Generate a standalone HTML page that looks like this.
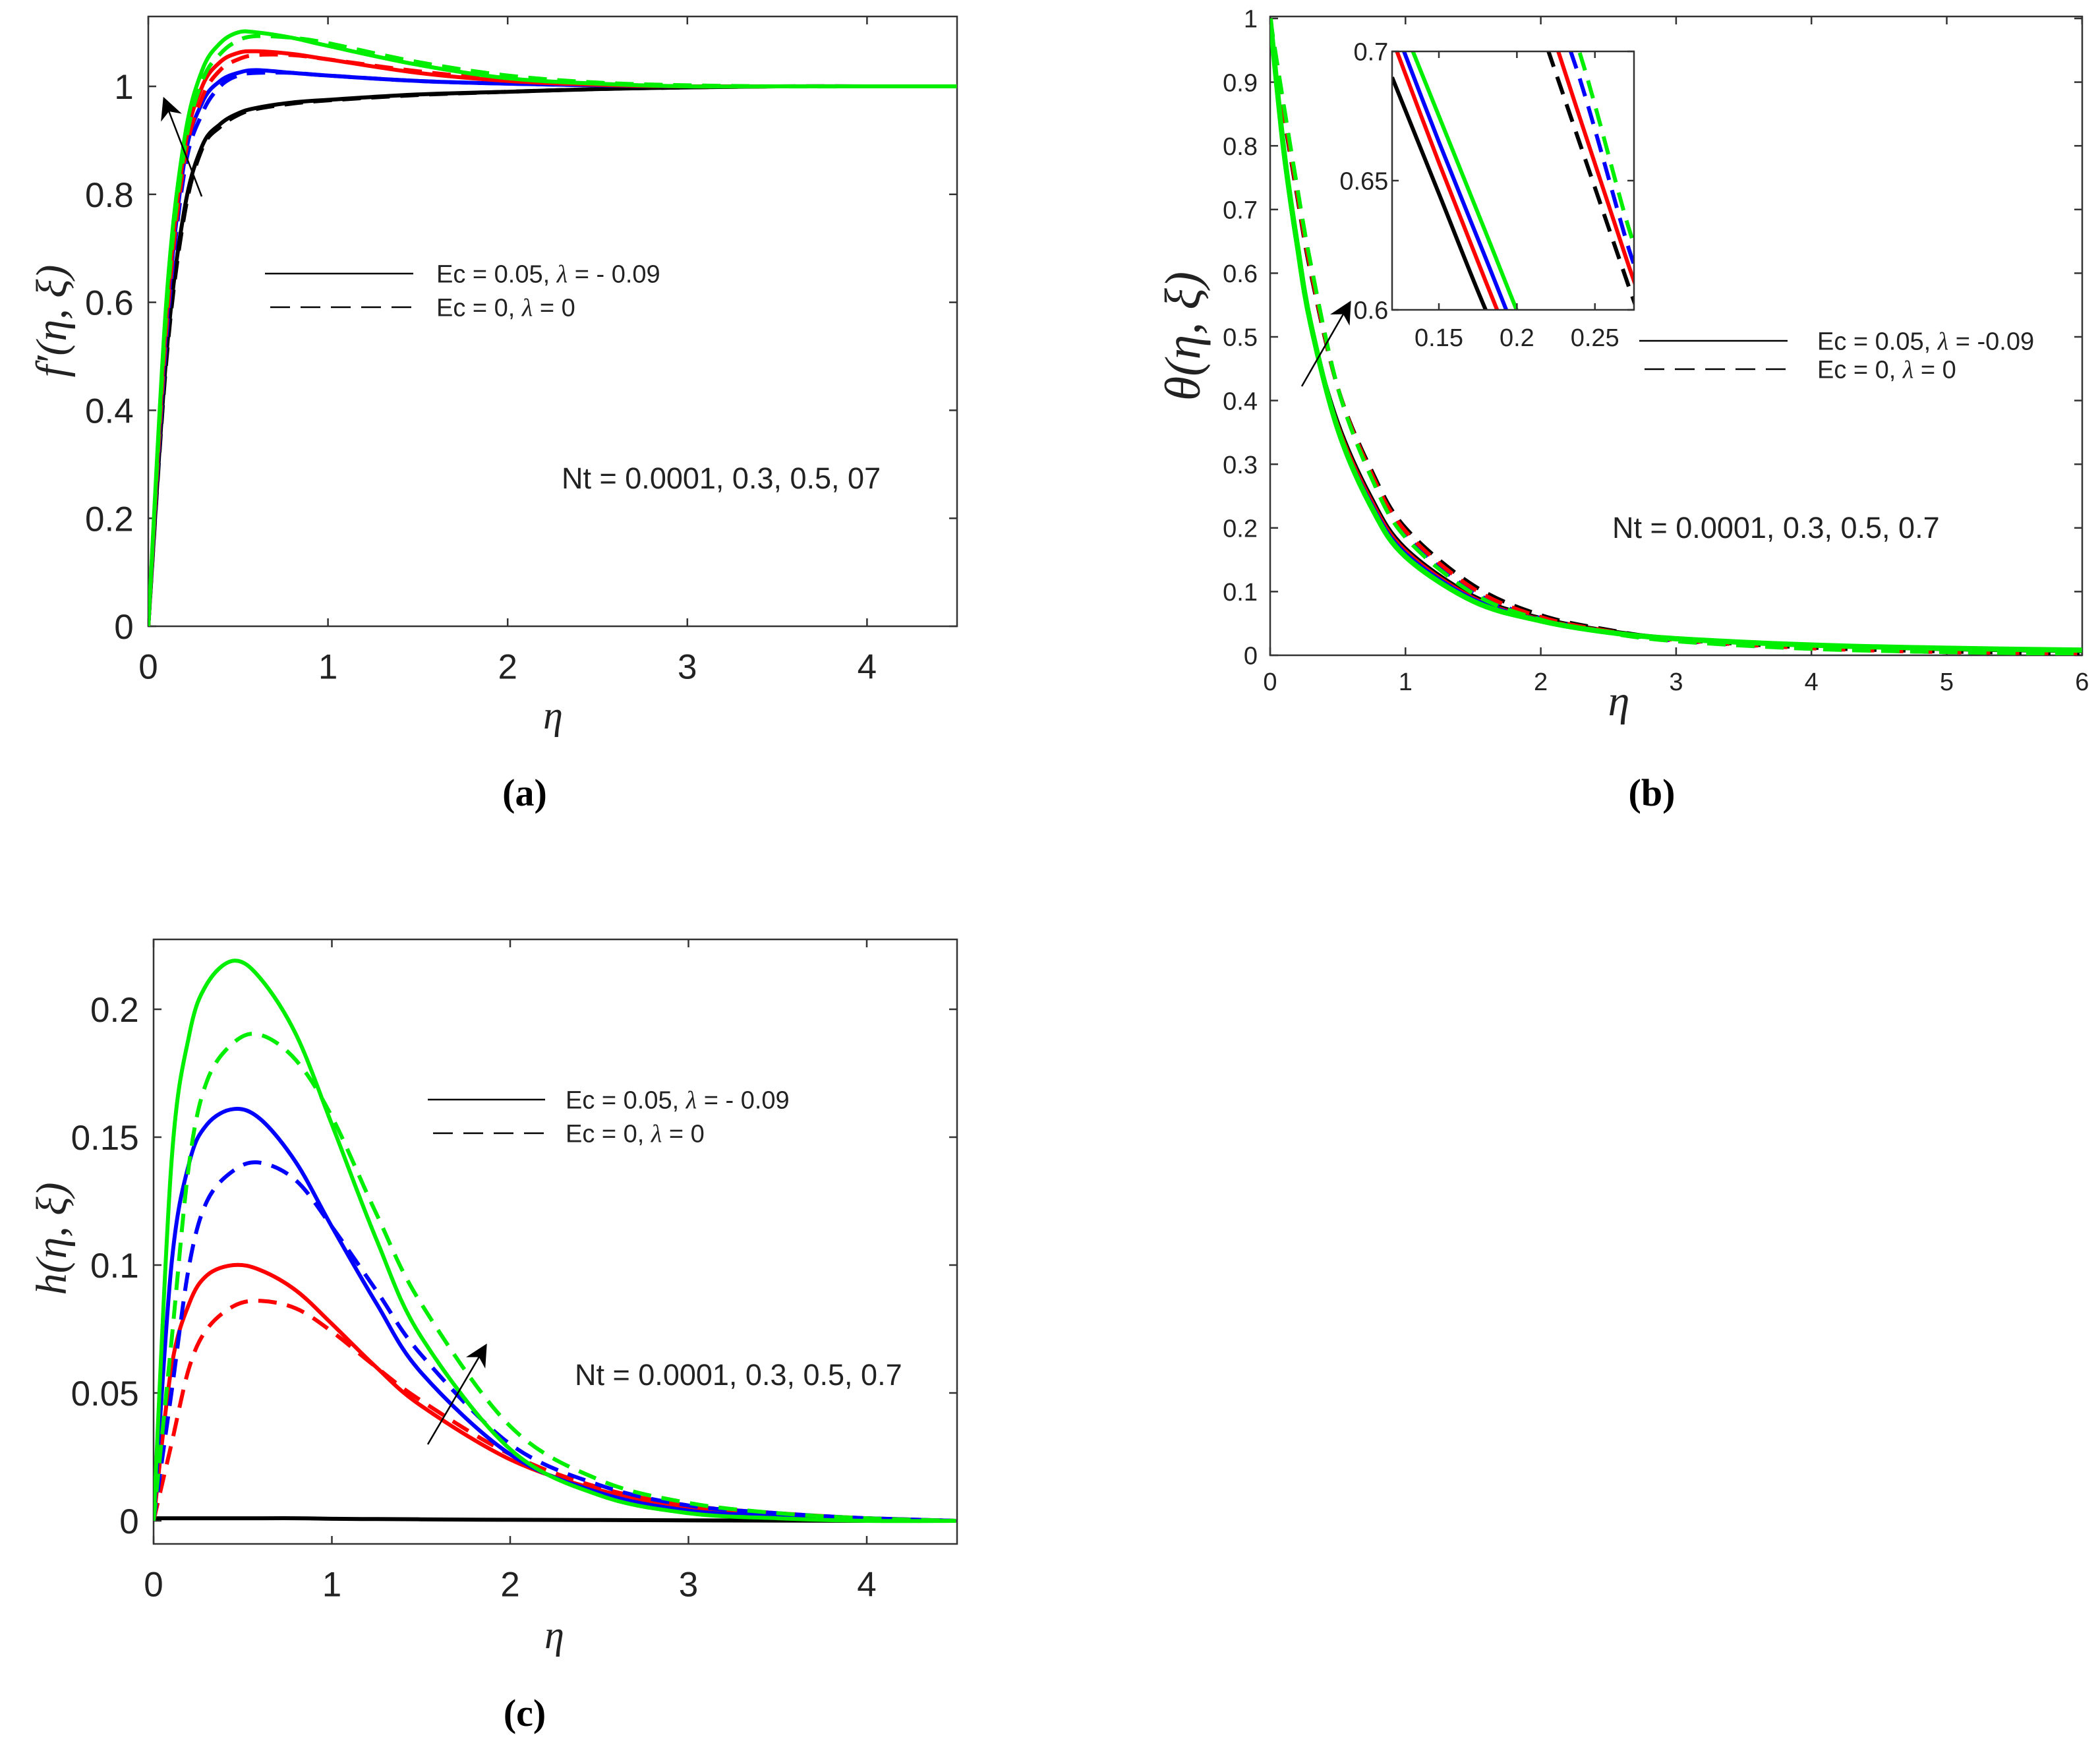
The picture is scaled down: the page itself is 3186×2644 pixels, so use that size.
<!DOCTYPE html>
<html><head><meta charset="utf-8"><style>
html,body{margin:0;padding:0;background:#fff;}
svg{display:block;}
text{font-family:"Liberation Sans",sans-serif;fill:#222;}
.math{font-family:"Liberation Serif",serif;font-style:italic;}
.cap{font-family:"Liberation Serif",serif;font-weight:bold;fill:#000;}
</style></head><body>
<svg id="fig" width="3186" height="2644" viewBox="0 0 3186 2644" xmlns="http://www.w3.org/2000/svg"></svg>
<script>
// ---- Panel (a) data: f'(eta) ----
const etaA = [0,0.1,0.2,0.3,0.4,0.5,0.6,0.8,1,1.5,2,2.5,3,3.5,4,4.5];
const fBlackSolid = [0,0.5,0.77,0.89,0.93,0.95,0.96,0.97,0.975,0.985,0.99,0.995,0.998,1,1,1];
const fBlackDash  = [0,0.49,0.76,0.885,0.925,0.947,0.958,0.968,0.974,0.984,0.99,0.995,0.998,1,1,1];
const fBlueSolid  = [0,0.55,0.86,0.97,1.01,1.025,1.03,1.025,1.02,1.01,1.005,1.002,1,1,1,1];
const fBlueDash   = [0,0.53,0.84,0.95,1.0,1.02,1.025,1.025,1.02,1.01,1.005,1.002,1,1,1,1];
const fRedSolid   = [0,0.57,0.88,1.0,1.045,1.062,1.065,1.06,1.05,1.025,1.01,1.003,1,1,1,1];
const fRedDash    = [0,0.55,0.86,0.98,1.03,1.05,1.058,1.058,1.05,1.028,1.012,1.004,1,1,1,1];
const fGreenSolid = [0,0.6,0.9,1.03,1.08,1.1,1.1,1.09,1.075,1.04,1.015,1.005,1,1,1,1];
const fGreenDash  = [0,0.58,0.88,1.01,1.06,1.085,1.093,1.09,1.08,1.045,1.02,1.007,1.002,1,1,1];
const ticksAx = [0,1,2,3,4];
const ticksAy = [0,0.2,0.4,0.6,0.8,1];
// ---- Panel (b) data: theta(eta) ----
const etaB = [0,0.1,0.2,0.3,0.5,0.75,1,1.5,2,2.5,3,4,5,6];
const tBlackSolid = [1,0.78,0.63,0.52,0.37,0.25,0.17,0.095,0.06,0.04,0.028,0.015,0.008,0.005];
const tRedSolid   = [1,0.785,0.635,0.52,0.365,0.245,0.166,0.092,0.058,0.039,0.027,0.015,0.009,0.006];
const tBlueSolid  = [1,0.79,0.64,0.52,0.36,0.24,0.162,0.09,0.057,0.038,0.027,0.016,0.01,0.007];
const tGreenSolid = [1,0.795,0.645,0.52,0.355,0.232,0.155,0.085,0.054,0.036,0.026,0.016,0.011,0.008];
const tBlackDash  = [1,0.85,0.72,0.60,0.42,0.29,0.2,0.11,0.063,0.04,0.025,0.012,0.006,0.003];
const tRedDash    = [1,0.855,0.725,0.605,0.42,0.285,0.195,0.105,0.06,0.038,0.024,0.011,0.005,0.003];
const tBlueDash   = [1,0.86,0.73,0.61,0.42,0.282,0.19,0.1,0.058,0.037,0.023,0.011,0.005,0.003];
const tGreenDash  = [1,0.865,0.735,0.615,0.42,0.278,0.185,0.097,0.056,0.035,0.022,0.01,0.005,0.002];
const ticksBx = [0,1,2,3,4,5,6];
const ticksBy = [0,0.1,0.2,0.3,0.4,0.5,0.6,0.7,0.8,0.9,1];
// inset
const etaIn = [0.12,0.15,0.18,0.21,0.24,0.27,0.28];
const iBlackSolid = [0.69,0.645,0.60,0.56,0.52,0.49,0.48];
const iRedSolid   = [0.705,0.657,0.611,0.567,0.53,0.5,0.49];
const iBlueSolid  = [0.712,0.665,0.62,0.575,0.535,0.5,0.49];
const iGreenSolid = [0.72,0.675,0.63,0.585,0.545,0.51,0.5];
const iBlackDash  = [0.87,0.82,0.77,0.718,0.665,0.612,0.595];
const iRedDash    = [0.88,0.83,0.78,0.73,0.675,0.62,0.603];
const iBlueDash   = [0.89,0.84,0.79,0.74,0.69,0.627,0.61];
const iGreenDash  = [0.9,0.85,0.8,0.75,0.7,0.635,0.618];
const ticksInX = [0.15,0.2,0.25];
const ticksInY = [0.6,0.65,0.7];
// ---- Panel (c) data: h(eta) ----
const etaC = [0,0.1,0.2,0.3,0.45,0.6,0.8,1,1.25,1.5,2,2.5,3,3.5,4,4.5];
const hBlackSolid = [0.001,0.001,0.001,0.001,0.001,0.001,0.001,0.0008,0.0007,0.0006,0.0004,0.0003,0.0002,0.0001,0,0];
const hRedSolid   = [0,0.06,0.085,0.096,0.1,0.098,0.09,0.077,0.06,0.045,0.024,0.012,0.005,0.002,0.001,0];
const hRedDash    = [0,0.03,0.06,0.075,0.084,0.086,0.083,0.074,0.06,0.047,0.026,0.013,0.006,0.003,0.001,0];
const hBlueSolid  = [0,0.1,0.14,0.155,0.161,0.157,0.14,0.115,0.085,0.058,0.026,0.011,0.004,0.002,0.001,0];
const hBlueDash   = [0,0.05,0.1,0.125,0.137,0.14,0.133,0.115,0.09,0.065,0.03,0.014,0.006,0.003,0.001,0];
const hGreenSolid = [0,0.14,0.19,0.21,0.219,0.212,0.19,0.155,0.11,0.072,0.028,0.01,0.003,0.001,0,0];
const hGreenDash  = [0,0.07,0.14,0.172,0.187,0.19,0.18,0.158,0.12,0.085,0.037,0.016,0.007,0.003,0.001,0];
const ticksCx = [0,1,2,3,4];
const ticksCy = [0,0.05,0.1,0.15,0.2];

const NS='http://www.w3.org/2000/svg';
const svg=document.getElementById('fig');
function mk(tag,attrs,parent){const e=document.createElementNS(NS,tag);for(const k in attrs)e.setAttribute(k,attrs[k]);(parent||svg).appendChild(e);return e;}
function pathD(xs,ys,sx,sy){
  const p=xs.map((x,i)=>[sx(x),sy(ys[i])]);
  let d='M'+p[0][0].toFixed(1)+','+p[0][1].toFixed(1);
  for(let i=0;i<p.length-1;i++){
    const p0=p[Math.max(0,i-1)],p1=p[i],p2=p[i+1],p3=p[Math.min(p.length-1,i+2)];
    const c1=[p1[0]+(p2[0]-p0[0])/6,p1[1]+(p2[1]-p0[1])/6];
    const c2=[p2[0]-(p3[0]-p1[0])/6,p2[1]-(p3[1]-p1[1])/6];
    d+=` C${c1[0].toFixed(1)},${c1[1].toFixed(1)} ${c2[0].toFixed(1)},${c2[1].toFixed(1)} ${p2[0].toFixed(1)},${p2[1].toFixed(1)}`;
  }
  return d;
}
function axes(g,L,T,R,B,sx,sy,xt,yt,fs,tl,fmt,name,gapY,gapX){
  const box=mk('rect',{x:L,y:T,width:R-L,height:B-T,fill:'none',stroke:'#333','stroke-width':2.5},g);
  
  
  xt.forEach(v=>{const x=sx(v);
    mk('line',{x1:x,y1:B,x2:x,y2:B-tl,stroke:'#333','stroke-width':2.5},g);
    mk('line',{x1:x,y1:T,x2:x,y2:T+tl,stroke:'#333','stroke-width':2.5},g);
    const t=mk('text',{x:x,y:B+fs*gapX,'font-size':fs,'text-anchor':'middle'},g);t.textContent=fmt(v);
    
    });
  yt.forEach(v=>{const y=sy(v);
    mk('line',{x1:L,y1:y,x2:L+tl,y2:y,stroke:'#333','stroke-width':2.5},g);
    mk('line',{x1:R,y1:y,x2:R-tl,y2:y,stroke:'#333','stroke-width':2.5},g);
    const t=mk('text',{x:L-fs*gapY,y:y+fs*0.36,'font-size':fs,'text-anchor':'end'},g);t.textContent=fmt(v);
    
    });
}
function series(g,xs,ys,sx,sy,color,dash,w,name,clip){
  const a={d:pathD(xs,ys,sx,sy),fill:'none',stroke:color,'stroke-width':w,'stroke-linejoin':'round'};
  if(dash)a['stroke-dasharray']=dash;
  if(clip)a['clip-path']='url(#'+clip+')';
  const p=mk('path',a,g);
  
  
}
function textEl(g,x,y,fs,str,cls,anchor,name,rot){
  const a={x:x,y:y,'font-size':fs};if(cls)a['class']=cls;if(anchor)a['text-anchor']=anchor;
  if(rot)a.transform=`rotate(-90 ${x} ${y})`;
  const t=mk('text',a,g);t.textContent=str;
  
  
  return t;
}
const defs=mk('defs',{});
const mkr=mk('marker',{id:'arr',viewBox:'0 0 10 10',refX:9,refY:5,markerWidth:34,markerHeight:34,orient:'auto',markerUnits:'userSpaceOnUse'},defs);
mk('path',{d:'M0,0 L10,5 L0,10 L3,5 z',fill:'#000'},mkr);
function arrow(g,x1,y1,x2,y2,name){
  const l=mk('line',{x1,y1,x2,y2,stroke:'#000','stroke-width':2.5,'marker-end':'url(#arr)'},g);
  
  
}
function legend(g,x1,x2,y1,y2,tx,fs,l1,l2,name){
  mk('line',{x1:x1,y1:y1,x2:x2,y2:y1,stroke:'#000','stroke-width':2.5},g);
  mk('line',{x1:x1+8,y1:y2,x2:x2,y2:y2,stroke:'#000','stroke-width':2.5,'stroke-dasharray':'30,16'},g);
  const t1=mk('text',{x:tx,y:y1+fs*0.36,'font-size':fs},g);t1.innerHTML=l1;
  
  
  const t2=mk('text',{x:tx,y:y2+fs*0.36,'font-size':fs},g);t2.innerHTML=l2;
  
  
}
const W=6, DASH='28,16';
const fmt=v=>String(+v.toFixed(4));
const LAM='<tspan font-family="Liberation Serif" font-style="italic">λ</tspan>';

// ---- Panel A ----
{
  const g=mk('g',{});
  const L=225,R=1452,T=25,B=950;
  const sx=v=>L+v*272.6, sy=v=>B-v*819;
  mk('clipPath',{id:'clipA'},defs).appendChild(mk('rect',{x:L,y:T,width:R-L,height:B-T},defs));
  axes(g,L,T,R,B,sx,sy,ticksAx,ticksAy,53,12,fmt,'panel-a',0.42,1.5);
  [[fBlackSolid,'#000',0,'black-solid'],[fBlackDash,'#000',DASH,'black-dashed'],
   [fBlueSolid,'#0000ff',0,'blue-solid'],[fBlueDash,'#0000ff',DASH,'blue-dashed'],
   [fRedSolid,'#ff0000',0,'red-solid'],[fRedDash,'#ff0000',DASH,'red-dashed'],
   [fGreenSolid,'#00ee00',0,'green-solid'],[fGreenDash,'#00ee00',DASH,'green-dashed']]
   .forEach(s=>series(g,etaA,s[0],sx,sy,s[1],s[2],W,'panel-a-'+s[3],'clipA'));
  legend(g,402,627,415,466,662,38,'Ec = 0.05, '+LAM+' = - 0.09','Ec = 0, '+LAM+' = 0','panel-a');
  textEl(g,852,741,45,'Nt = 0.0001, 0.3, 0.5, 07','', '', 'panel-a-nt-annotation');
  arrow(g,306,298,249,150,'panel-a-arrow');
  textEl(g,100,487,66,'f′(η, ξ)','math','middle','panel-a-y-axis-title',true);
  textEl(g,839,1105,60,'η','math','middle','panel-a-x-axis-title');
  textEl(g,796,1222,58,'(a)','cap','middle','panel-a-caption');
}
// ---- Panel B ----
{
  const g=mk('g',{});
  const L=1927,R=3159,T=25,B=994;
  const sx=v=>L+v*205.3, sy=v=>B-v*966;
  mk('clipPath',{id:'clipB'},defs).appendChild(mk('rect',{x:L,y:T,width:R-L,height:B-T},defs));
  axes(g,L,T,R,B,sx,sy,ticksBx,ticksBy,38,12,fmt,'panel-b',0.5,1.4);
  [[tBlackSolid,'#000',0,'black-solid',3],[tRedSolid,'#ff0000',0,'red-solid',3],[tBlueSolid,'#0000ff',0,'blue-solid',3],
   [tBlackDash,'#000',DASH,'black-dashed',W],[tBlueDash,'#0000ff',DASH,'blue-dashed',W],[tRedDash,'#ff0000',DASH,'red-dashed',W],
   [tGreenSolid,'#00ee00',0,'green-solid',W+2],[tGreenDash,'#00ee00',DASH,'green-dashed',W]]
   .forEach(s=>series(g,etaB,s[0],sx,sy,s[1],s[2],s[4],'panel-b-'+s[3],'clipB'));
  // inset
  const iL=2112,iR=2479,iT=78,iB=470;
  const ix=v=>iL+(v-0.12)*2367,iy=v=>iB-(v-0.6)*3920;
  mk('rect',{x:iL,y:iT,width:iR-iL,height:iB-iT,fill:'#fff'},g);
  mk('clipPath',{id:'clipI'},defs).appendChild(mk('rect',{x:iL,y:iT,width:iR-iL,height:iB-iT},defs));
  [[iBlackSolid,'#000',0,'black-solid'],[iRedSolid,'#ff0000',0,'red-solid'],[iBlueSolid,'#0000ff',0,'blue-solid'],[iGreenSolid,'#00ee00',0,'green-solid'],
   [iBlackDash,'#000',DASH,'black-dashed'],[iBlueDash,'#0000ff',DASH,'blue-dashed'],[iGreenDash,'#00ee00',DASH,'green-dashed'],[iRedDash,'#ff0000',0,'red-dashed']]
   .forEach(s=>series(g,etaIn,s[0],ix,iy,s[1],s[2],W,'panel-b-inset-'+s[3],'clipI'));
  axes(g,iL,iT,iR,iB,ix,iy,ticksInX,ticksInY,38,10,fmt,'panel-b-inset',0.15,1.45);
  legend(g,2487,2712,517,560,2757,38,'Ec = 0.05, '+LAM+' = -0.09','Ec = 0, '+LAM+' = 0','panel-b');
  textEl(g,2446,816,45,'Nt = 0.0001, 0.3, 0.5, 0.7','', '', 'panel-b-nt-annotation');
  arrow(g,1975,586,2048,459,'panel-b-arrow');
  textEl(g,1820,510,76,'θ(η, ξ)','math','middle','panel-b-y-axis-title',true);
  textEl(g,2456,1085,66,'η','math','middle','panel-b-x-axis-title');
  textEl(g,2506,1222,58,'(b)','cap','middle','panel-b-caption');
}
// ---- Panel C ----
{
  const g=mk('g',{});
  const L=233,R=1452,T=1425,B=2342;
  const sx=v=>L+v*270.5, sy=v=>2307-v*3880;
  mk('clipPath',{id:'clipC'},defs).appendChild(mk('rect',{x:L,y:T,width:R-L,height:B-T},defs));
  axes(g,L,T,R,B,sx,sy,ticksCx,ticksCy,53,12,fmt,'panel-c',0.42,1.5);
  [[hBlackSolid,'#000',0,'black-solid'],[hRedSolid,'#ff0000',0,'red-solid'],[hRedDash,'#ff0000',DASH,'red-dashed'],
   [hBlueSolid,'#0000ff',0,'blue-solid'],[hBlueDash,'#0000ff',DASH,'blue-dashed'],
   [hGreenSolid,'#00ee00',0,'green-solid'],[hGreenDash,'#00ee00',DASH,'green-dashed']]
   .forEach(s=>series(g,etaC,s[0],sx,sy,s[1],s[2],W,'panel-c-'+s[3],'clipC'));
  legend(g,649,827,1668,1719,858,38,'Ec = 0.05, '+LAM+' = - 0.09','Ec = 0, '+LAM+' = 0','panel-c');
  textEl(g,872,2101,45,'Nt = 0.0001, 0.3, 0.5, 0.7','', '', 'panel-c-nt-annotation');
  arrow(g,649,2191,737,2041,'panel-c-arrow');
  textEl(g,100,1879,66,'h(η, ξ)','math','middle','panel-c-y-axis-title',true);
  textEl(g,841,2500,60,'η','math','middle','panel-c-x-axis-title');
  textEl(g,796,2618,58,'(c)','cap','middle','panel-c-caption');
}
</script>
</body></html>
